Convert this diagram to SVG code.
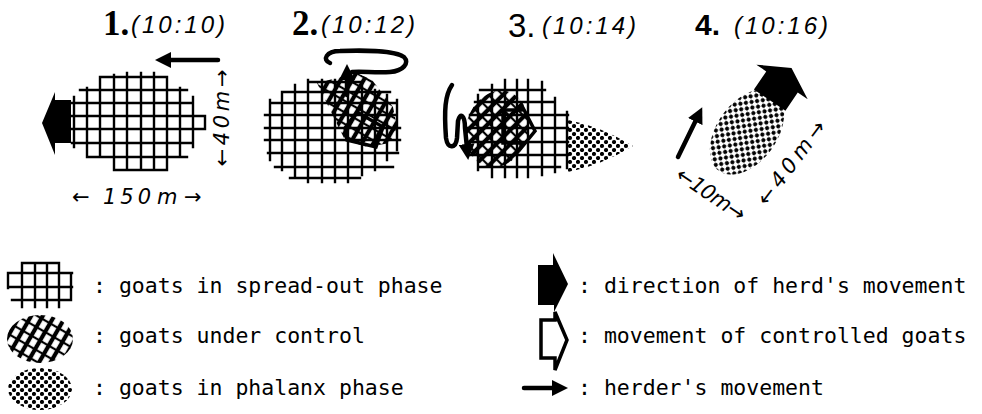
<svg xmlns="http://www.w3.org/2000/svg" width="982" height="414" viewBox="0 0 982 414">
<defs>
<style>
.grid{fill:none;stroke:#000;stroke-width:2.4;stroke-linecap:square}
.title{font-family:"Liberation Serif",serif;font-weight:bold;font-size:35px}
.time{font-family:"Liberation Sans",Arial,sans-serif;font-style:italic;font-size:24px}
.dim{font-family:"DejaVu Sans",sans-serif;font-style:italic;font-size:21px}
.leg{font-family:"DejaVu Sans Mono",monospace;font-size:21.5px}
.herder{fill:none;stroke:#000;stroke-width:4.5;stroke-linecap:round;stroke-linejoin:round}
.solid{fill:#000}
.open{fill:none;stroke:#000;stroke-width:3.5;stroke-linejoin:miter}
</style>
<pattern id="hatch" width="10" height="10" patternUnits="userSpaceOnUse" patternTransform="rotate(30)">
<path d="M5 0V10" stroke="#000" stroke-width="4.2"/>
<path d="M0 5H10" stroke="#000" stroke-width="2.2"/>
</pattern>
<pattern id="checker" width="8" height="8" patternUnits="userSpaceOnUse">
<circle cx="2" cy="2" r="2.1" fill="#000"/>
<circle cx="6" cy="6" r="2.1" fill="#000"/>
</pattern>
<marker id="hd" viewBox="0 0 16 16" refX="4" refY="8" markerWidth="16" markerHeight="16" markerUnits="userSpaceOnUse" orient="auto">
<path d="M0 0L16 8L0 16Z" fill="#000"/>
</marker>
</defs>
<rect width="982" height="414" fill="#fff"/>

<!-- stage 1: spread-out herd moving left -->
<g id="stage1">
<text class="title" x="103" y="35">1.</text>
<text class="time" x="131" y="33" textLength="94" lengthAdjust="spacing">(10:10)</text>
<path class="grid" d="M100 77H167M80 90H187M72 103H193M70 116H205M70 129H205M72 143H193M87 157H187M115 170H167
M74 97V147M87 88V157M100 77V157M114 75V170M127 73V170M141 73V170M154 73V170M167 77V170M180 88V157M193 97V147M205 116V129"/>
<polygon class="solid" points="71,100 55,100 55,92 42,123 55,155 55,143 71,143"/>
<path class="herder" d="M218 60L167 60" marker-end="url(#hd)"/>
<text class="dim" transform="translate(229,118) rotate(-90)" text-anchor="middle" textLength="97" lengthAdjust="spacing">←40m→</text>
<text class="dim" y="204"><tspan x="72">←</tspan><tspan x="103" letter-spacing="4">150</tspan><tspan x="157">m</tspan><tspan x="184">→</tspan></text>
</g>

<!-- stage 2: herder circles, part of the herd is brought under control -->
<g id="stage2">
<text class="title" x="292" y="35">2.</text>
<text class="time" x="321" y="33" textLength="94" lengthAdjust="spacing">(10:12)</text>
<path class="grid" d="M310 82H360M282 92H390M270 103H395M265 115H397M265 128H400M265 140H400M268 153H398M275 167H393M290 178H360
M270 100V160M282 92V170M295 85V178M308 80V182M322 80V182M335 80V182M348 82V182M362 82V175M375 90V170M387 95V160M397 100V150"/>
<path d="M317 83L337 78L357 73L372 80L393 107L397 127L390 143L367 147L345 140L335 120Z" fill="url(#hatch)"/>
<polygon class="open" points="345,128 357,112 383,127 376,147 347,140"/>
<path class="herder" d="M347 95L347 76" marker-end="url(#hd)"/>
<path class="herder" d="M330 63C322 60 326 51 340 51C365 50 395 51 404 57C410 63 403 71 390 72C375 73 362 71 352 72"/>
</g>

<!-- stage 3: controlled goats lead, phalanx forms -->
<g id="stage3">
<text x="508" y="37" font-family="Liberation Sans,Arial,sans-serif" font-size="33">3.</text>
<text class="time" x="542" y="34" textLength="94" lengthAdjust="spacing">(10:14)</text>
<path class="grid" d="M480 90H545M475 102H553M470 115H568M468 128H568M468 142H568M470 155H568M478 167H560
M478 95V170M492 85V177M505 80V177M517 80V177M528 80V177M542 82V175M555 98V172M567 112V168"/>
<ellipse cx="497" cy="129" rx="31" ry="39" transform="rotate(15 497 129)" fill="url(#hatch)"/>
<polygon class="open" points="503,110 521,110 521,104 535,131 521,148 521,143 503,143"/>
<path d="M568 120Q600 126 633 146Q600 166 568 172Z" fill="url(#checker)"/>
<path class="herder" d="M452 85C445 95 444 110 446 138C448 150 456 148 457 138L458 121C460 112 465 115 465 128L467 148" marker-end="url(#hd)"/>
</g>

<!-- stage 4: herd in phalanx moving off -->
<g id="stage4">
<text x="695" y="35" font-family="Liberation Sans,Arial,sans-serif" font-weight="bold" font-size="30">4.</text>
<text class="time" x="734" y="34" textLength="94" lengthAdjust="spacing">(10:16)</text>
<ellipse cx="747" cy="132" rx="48" ry="30" transform="rotate(-54 747 132)" fill="url(#checker)"/>
<polygon class="solid" transform="translate(782,82) rotate(-56)" points="-22,-19 0,-19 0,-31 17,0 0,31 0,19 -22,19"/>
<path class="herder" d="M678 157L697 118" marker-end="url(#hd)"/>
<text class="dim" transform="translate(707,200) rotate(34)" text-anchor="middle" textLength="79" lengthAdjust="spacing">←10m→</text>
<text class="dim" transform="translate(797,167) rotate(-53)" text-anchor="middle" textLength="100" lengthAdjust="spacing">←40m→</text>
</g>

<!-- key -->
<g id="key-spread">
<path class="grid" d="M22 263H59M8 273H72M8 287H72M12 300H70M8 273V288M22 263V307M35 263V307M47 263V307M59 263V307M71 273V300"/>
<text class="leg" x="93" y="293">: goats in spread-out phase</text>
</g>
<g id="key-control">
<ellipse cx="40" cy="339" rx="33" ry="24" fill="url(#hatch)"/>
<text class="leg" x="93" y="343">: goats under control</text>
</g>
<g id="key-phalanx">
<ellipse cx="40" cy="389" rx="32" ry="21" fill="url(#checker)"/>
<text class="leg" x="93" y="395">: goats in phalanx phase</text>
</g>
<g id="key-herd">
<polygon class="solid" points="538,265 553,265 553,253 568,284 554,312 554,305 538,305"/>
<text class="leg" x="578" y="293">: direction of herd's movement</text>
</g>
<g id="key-controlled">
<polygon class="open" points="541,320 555,320 555,312 567,340 555,370 555,358 541,358"/>
<text class="leg" x="578" y="343">: movement of controlled goats</text>
</g>
<g id="key-herder">
<path class="herder" d="M524 388L556 388" marker-end="url(#hd)"/>
<text class="leg" x="578" y="395">: herder's movement</text>
</g>
</svg>
